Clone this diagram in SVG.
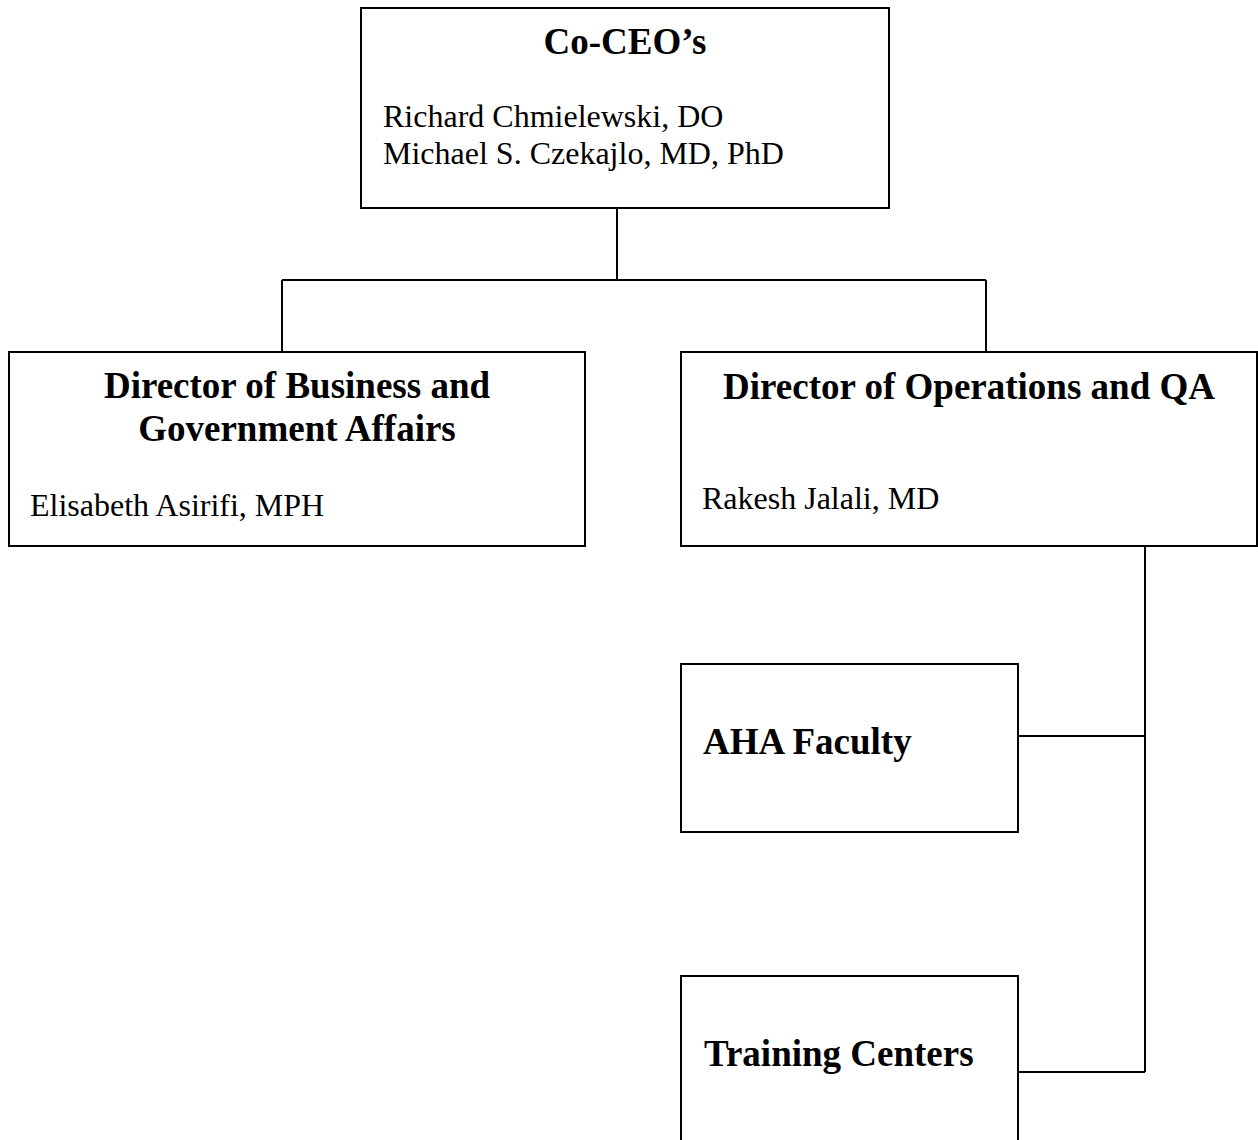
<svg xmlns="http://www.w3.org/2000/svg" width="1258" height="1140" viewBox="0 0 1258 1140">
<style>
.box{fill:#fff;stroke:#000;stroke-width:2}
.ln{fill:none;stroke:#000;stroke-width:2}
.t{font-family:"Liberation Serif","Times New Roman",serif;font-weight:bold;font-size:37px;fill:#000}
.b{font-family:"Liberation Serif","Times New Roman",serif;font-size:32px;fill:#000}
</style>
<rect width="1258" height="1140" fill="#fff"/>
<g id="connectors">
<path class="ln" d="M617,208 V280 M282,280 H986 M282,280 V352 M986,280 V352"/>
<path class="ln" d="M1145,546 V1072 M1018,736 H1145 M1018,1072 H1145"/>
</g>
<g id="ceo">
<rect class="box" x="361" y="8" width="528" height="200"/>
<text class="t" x="625" y="54" text-anchor="middle">Co-CEO’s</text>
<text class="b" x="383" y="127">Richard Chmielewski, DO</text>
<text class="b" x="383" y="164">Michael S. Czekajlo, MD, PhD</text>
</g>
<g id="business">
<rect class="box" x="9" y="352" width="576" height="194"/>
<text class="t" x="297" y="398" text-anchor="middle">Director of Business and</text>
<text class="t" x="297" y="441" text-anchor="middle">Government Affairs</text>
<text class="b" x="30" y="516">Elisabeth Asirifi, MPH</text>
</g>
<g id="operations">
<rect class="box" x="681" y="352" width="576" height="194"/>
<text class="t" x="969" y="399" text-anchor="middle">Director of Operations and QA</text>
<text class="b" x="702" y="509">Rakesh Jalali, MD</text>
</g>
<g id="faculty">
<rect class="box" x="681" y="664" width="337" height="168"/>
<text class="t" x="703" y="754">AHA Faculty</text>
</g>
<g id="training">
<rect class="box" x="681" y="976" width="337" height="200"/>
<text class="t" x="704" y="1066">Training Centers</text>
</g>
</svg>
